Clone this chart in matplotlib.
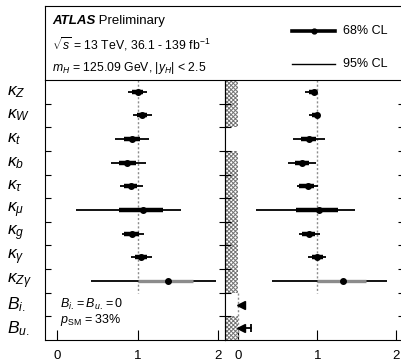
import numpy as np
import matplotlib
matplotlib.use('Agg')
import matplotlib.pyplot as plt
import matplotlib.transforms as mtransforms

plt.rcParams['font.family'] = ['Liberation Sans', 'DejaVu Sans']
plt.rcParams['mathtext.fontset'] = 'custom'
plt.rcParams['mathtext.rm'] = 'Liberation Sans'
plt.rcParams['mathtext.it'] = 'Liberation Sans:italic'
plt.rcParams['mathtext.bf'] = 'Liberation Sans:bold'

labels = [r'$\kappa_Z$', r'$\kappa_W$', r'$\kappa_t$', r'$\kappa_b$', r'$\kappa_\tau$',
          r'$\kappa_\mu$', r'$\kappa_g$', r'$\kappa_\gamma$', r'$\kappa_{Z\gamma}$',
          r'$B_{i.}$', r'$B_{u.}$']

# left panel: B_i = B_u = 0
left_val = [1.00, 1.055, 0.926, 0.87, 0.92, 1.067, 0.93, 1.04, 1.375]
left_lo68 = [0.93, 0.99, 0.83, 0.77, 0.83, 0.77, 0.83, 0.97, 1.01]
left_hi68 = [1.07, 1.12, 1.03, 0.98, 0.99, 1.32, 1.02, 1.12, 1.69]
left_lo95 = [0.88, 0.94, 0.72, 0.665, 0.78, 0.23, 0.80, 0.92, 0.415]
left_hi95 = [1.12, 1.18, 1.14, 1.11, 1.07, 1.54, 1.08, 1.18, 1.97]

# right panel: B_i, B_u free, kappa_V <= 1
right_val = [0.954, 0.996, 0.89, 0.806, 0.878, 1.022, 0.891, 0.996, 1.325]
right_lo68 = [0.89, 0.93, 0.794, 0.72, 0.77, 0.73, 0.806, 0.93, 1.00]
right_hi68 = [1.00, 1.00, 0.987, 0.90, 0.954, 1.258, 0.975, 1.07, 1.616]
right_lo95 = [0.845, 0.90, 0.692, 0.629, 0.743, 0.224, 0.772, 0.882, 0.427]
right_hi95 = [1.00, 1.00, 1.093, 0.98, 1.009, 1.473, 1.03, 1.11, 1.886]

b_up68 = [0.095, 0.06]
b_up95 = [None, 0.165]

hatched_rows = [0, 1, 3, 4, 5, 6, 7, 8, 10]
n_kappa = len(left_val)

fig = plt.figure(figsize=(4.02, 3.64), dpi=100)
ax_l = fig.add_axes([0.1119, 0.0659, 0.4486, 0.7143])
ax_r = fig.add_axes([0.5605, 0.0659, 0.4435, 0.7143])
ax_h = fig.add_axes([0.1119, 0.7802, 0.8921, 0.2033])


def draw_points(ax, val, lo68, hi68, lo95, hi95):
    for i in range(len(val)):
        ax.plot([lo95[i], hi95[i]], [i, i], color='black', lw=1.3, solid_capstyle='butt', zorder=3)
        c68 = '0.55' if i == n_kappa - 1 else 'black'
        lw68 = 2.4 if i == n_kappa - 1 else 3.2
        ax.plot([lo68[i], hi68[i]], [i, i], color=c68, lw=lw68, solid_capstyle='butt', zorder=4)
        ax.plot(val[i], i, 'o', color='black', ms=4, zorder=5)


for ax in (ax_l, ax_r):
    ax.set_ylim(len(labels) - 0.5, -0.5)
    ax.set_yticks(np.arange(0.5, len(labels) - 0.5, 1))
    ax.tick_params(axis='y', direction='in', left=True, right=True, length=4,
                   labelleft=False, width=0.8)
    ax.set_xticks([0, 1, 2])
    ax.tick_params(axis='x', direction='in', length=7, labelsize=9.5, pad=7, width=0.8)
    ax.spines['top'].set_visible(False)
    ax.vlines(1, -0.5, n_kappa - 0.5, colors='0.55', linestyles=(0, (1.5, 1.5)), lw=1.0, zorder=2)

ax_l.set_xlim(-0.153, 2.092)
ax_r.set_xlim(-0.165, 2.092)

draw_points(ax_l, left_val, left_lo68, left_hi68, left_lo95, left_hi95)
draw_points(ax_r, right_val, right_lo68, right_hi68, right_lo95, right_hi95)

# hatched unphysical region
plt.rcParams['hatch.linewidth'] = 0.7
for r in hatched_rows:
    ax_r.barh(r, 0.165, left=-0.165, height=1.0, facecolor='white', edgecolor='0.45',
              hatch='xxxxxxxx', lw=0, zorder=1)
ax_r.vlines(0, n_kappa - 0.5, len(labels) - 0.5, colors='0.55', linestyles=(0, (1.5, 1.5)),
            lw=1.0, zorder=2)

# branching ratio limits
for k in range(2):
    r = n_kappa + k
    ax_r.plot([0.035, b_up68[k]], [r, r], color='black', lw=2.6, solid_capstyle='butt', zorder=4)
    if b_up95[k] is not None:
        ax_r.plot([0.035, b_up95[k]], [r, r], color='black', lw=1.3, zorder=3)
        ax_r.plot(b_up95[k], r, '|', color='black', ms=6, mew=1.3, zorder=3)
    ax_r.plot(0.035, r, '<', color='black', ms=6, zorder=5)

# parameter labels
trans = mtransforms.blended_transform_factory(ax_l.transAxes, ax_l.transData)
for i, lab in enumerate(labels):
    ax_l.text(-0.21, i, lab, transform=trans, ha='left', va='center', fontsize=12.5)

ax_l.text(0.03, 9.0, r'$B_{i.} = B_{u.} = 0$', fontsize=9, va='center', ha='left')
ax_l.text(0.03, 9.65, r'$p_{\rm SM}$ = 33%', fontsize=9, va='center', ha='left')

# header box
ax_h.set_xlim(0, 1)
ax_h.set_ylim(0, 1)
ax_h.set_xticks([])
ax_h.set_yticks([])
t1 = ax_h.text(0.0195, 0.80, 'ATLAS', fontsize=9.5, fontweight='bold', style='italic',
               va='center', ha='left')
ax_h.annotate(' Preliminary', xy=(1, 0), xycoords=t1, va='bottom', ha='left', fontsize=9.5)
ax_h.text(0.0195, 0.48, r'$\sqrt{s}$ = 13 TeV, 36.1 - 139 fb$^{-1}$', fontsize=8.8,
          va='center', ha='left')
ax_h.text(0.0195, 0.16, r'$m_H$ = 125.09 GeV, $|y_H|$ < 2.5', fontsize=8.8,
          va='center', ha='left')
ax_h.plot([0.69, 0.81], [0.66, 0.66], color='black', lw=2.6)
ax_h.plot(0.75, 0.66, 'o', color='black', ms=3.5)
ax_h.text(0.83, 0.66, '68% CL', fontsize=9, va='center', ha='left')
ax_h.plot([0.69, 0.81], [0.22, 0.22], color='black', lw=1.0)
ax_h.text(0.83, 0.22, '95% CL', fontsize=9, va='center', ha='left')

fig.savefig('out.png', dpi=100)
